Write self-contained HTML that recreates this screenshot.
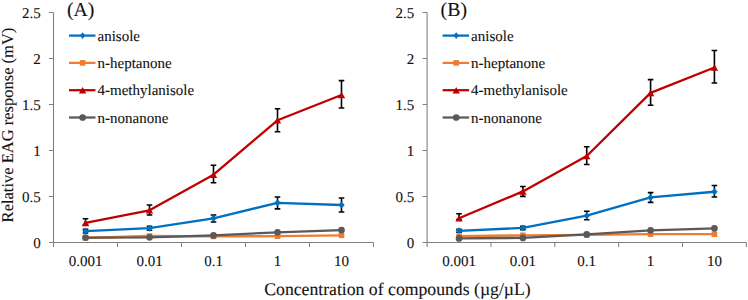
<!DOCTYPE html><html><head><meta charset="utf-8"><style>html,body{margin:0;padding:0;background:#fff;}svg{display:block;}</style></head><body>
<svg width="748" height="300" viewBox="0 0 748 300" font-family='"Liberation Serif", serif'>
<style>text{stroke:#111;stroke-width:0.1px;paint-order:stroke;text-rendering:geometricPrecision;}</style>
<rect width="748" height="300" fill="#fff"/>
<g stroke="#7F7F7F" stroke-width="1.05" fill="none">
<path d="M53.5 12.5 V242.5 H373.5"/>
<path d="M49.0 242.50 H53.5"/>
<path d="M49.0 196.50 H53.5"/>
<path d="M49.0 150.50 H53.5"/>
<path d="M49.0 104.50 H53.5"/>
<path d="M49.0 58.50 H53.5"/>
<path d="M49.0 12.50 H53.5"/>
<path d="M53.50 242.5 V247"/>
<path d="M117.50 242.5 V247"/>
<path d="M181.50 242.5 V247"/>
<path d="M245.50 242.5 V247"/>
<path d="M309.50 242.5 V247"/>
<path d="M373.50 242.5 V247"/>
</g>
<text x="40.70" y="247.70" font-size="15" text-anchor="end" fill="#111">0</text>
<text x="40.70" y="201.70" font-size="15" text-anchor="end" fill="#111">0.5</text>
<text x="40.70" y="155.70" font-size="15" text-anchor="end" fill="#111">1</text>
<text x="40.70" y="109.70" font-size="15" text-anchor="end" fill="#111">1.5</text>
<text x="40.70" y="63.70" font-size="15" text-anchor="end" fill="#111">2</text>
<text x="40.70" y="17.70" font-size="15" text-anchor="end" fill="#111">2.5</text>
<text x="85.50" y="266" font-size="15" text-anchor="middle" fill="#111">0.001</text>
<text x="149.50" y="266" font-size="15" text-anchor="middle" fill="#111">0.01</text>
<text x="213.50" y="266" font-size="15" text-anchor="middle" fill="#111">0.1</text>
<text x="277.50" y="266" font-size="15" text-anchor="middle" fill="#111">1</text>
<text x="341.50" y="266" font-size="15" text-anchor="middle" fill="#111">10</text>
<text x="67.00" y="15.6" font-size="19.8" fill="#111">(A)</text>
<path d="M85.50 229.30 V233.00 M82.70 229.30 H88.30 M82.70 233.00 H88.30" stroke="#000" stroke-width="1.6" fill="none"/><path d="M149.50 226.20 V230.30 M146.70 226.20 H152.30 M146.70 230.30 H152.30" stroke="#000" stroke-width="1.6" fill="none"/><path d="M213.50 215.00 V222.00 M210.70 215.00 H216.30 M210.70 222.00 H216.30" stroke="#000" stroke-width="1.6" fill="none"/><path d="M277.50 197.00 V208.90 M274.70 197.00 H280.30 M274.70 208.90 H280.30" stroke="#000" stroke-width="1.6" fill="none"/><path d="M341.50 198.00 V212.00 M338.70 198.00 H344.30 M338.70 212.00 H344.30" stroke="#000" stroke-width="1.6" fill="none"/>
<polyline points="85.50,231.10 149.50,228.20 213.50,218.30 277.50,202.80 341.50,205.00" fill="none" stroke="#0070C0" stroke-width="2.3" stroke-linejoin="round" stroke-linecap="round"/>
<path d="M85.50 227.60 L88.70 231.10 L85.50 234.60 L82.30 231.10Z" fill="#0070C0"/><path d="M149.50 224.70 L152.70 228.20 L149.50 231.70 L146.30 228.20Z" fill="#0070C0"/><path d="M213.50 214.80 L216.70 218.30 L213.50 221.80 L210.30 218.30Z" fill="#0070C0"/><path d="M277.50 199.30 L280.70 202.80 L277.50 206.30 L274.30 202.80Z" fill="#0070C0"/><path d="M341.50 201.50 L344.70 205.00 L341.50 208.50 L338.30 205.00Z" fill="#0070C0"/>
<polyline points="85.50,238.00 149.50,236.00 213.50,236.40 277.50,236.20 341.50,235.30" fill="none" stroke="#ED7D31" stroke-width="2.3" stroke-linejoin="round" stroke-linecap="round"/>
<rect x="82.70" y="235.20" width="5.6" height="5.6" fill="#ED7D31"/><rect x="146.70" y="233.20" width="5.6" height="5.6" fill="#ED7D31"/><rect x="210.70" y="233.60" width="5.6" height="5.6" fill="#ED7D31"/><rect x="274.70" y="233.40" width="5.6" height="5.6" fill="#ED7D31"/><rect x="338.70" y="232.50" width="5.6" height="5.6" fill="#ED7D31"/>
<path d="M85.50 218.80 V225.00 M82.70 218.80 H88.30 M82.70 225.00 H88.30" stroke="#000" stroke-width="1.6" fill="none"/><path d="M149.50 205.00 V215.00 M146.70 205.00 H152.30 M146.70 215.00 H152.30" stroke="#000" stroke-width="1.6" fill="none"/><path d="M213.50 165.30 V182.70 M210.70 165.30 H216.30 M210.70 182.70 H216.30" stroke="#000" stroke-width="1.6" fill="none"/><path d="M277.50 108.70 V131.70 M274.70 108.70 H280.30 M274.70 131.70 H280.30" stroke="#000" stroke-width="1.6" fill="none"/><path d="M341.50 80.60 V108.00 M338.70 80.60 H344.30 M338.70 108.00 H344.30" stroke="#000" stroke-width="1.6" fill="none"/>
<polyline points="85.50,222.90 149.50,210.30 213.50,174.70 277.50,120.30 341.50,95.00" fill="none" stroke="#C00000" stroke-width="2.3" stroke-linejoin="round" stroke-linecap="round"/>
<path d="M85.50 219.60 L89.20 226.20 L81.80 226.20Z" fill="#C00000"/><path d="M149.50 207.00 L153.20 213.60 L145.80 213.60Z" fill="#C00000"/><path d="M213.50 171.40 L217.20 178.00 L209.80 178.00Z" fill="#C00000"/><path d="M277.50 117.00 L281.20 123.60 L273.80 123.60Z" fill="#C00000"/><path d="M341.50 91.70 L345.20 98.30 L337.80 98.30Z" fill="#C00000"/>
<polyline points="85.50,237.60 149.50,237.30 213.50,235.40 277.50,232.30 341.50,230.10" fill="none" stroke="#595959" stroke-width="2.3" stroke-linejoin="round" stroke-linecap="round"/>
<circle cx="85.50" cy="237.60" r="3.35" fill="#595959"/><circle cx="149.50" cy="237.30" r="3.35" fill="#595959"/><circle cx="213.50" cy="235.40" r="3.35" fill="#595959"/><circle cx="277.50" cy="232.30" r="3.35" fill="#595959"/><circle cx="341.50" cy="230.10" r="3.35" fill="#595959"/>
<path d="M69.00 35.60 H95.50" stroke="#0070C0" stroke-width="2.25" stroke-linecap="butt"/>
<path d="M82.60 32.20 L85.30 35.60 L82.60 39.00 L79.90 35.60Z" fill="#0070C0"/>
<text x="97.50" y="40.60" font-size="15" fill="#111">anisole</text>
<path d="M69.00 62.90 H95.50" stroke="#ED7D31" stroke-width="2.25" stroke-linecap="butt"/>
<rect x="79.80" y="60.10" width="5.6" height="5.6" fill="#ED7D31"/>
<text x="97.50" y="67.90" font-size="15" fill="#111">n-heptanone</text>
<path d="M69.00 90.20 H95.50" stroke="#C00000" stroke-width="2.25" stroke-linecap="butt"/>
<path d="M82.60 86.90 L86.30 93.50 L78.90 93.50Z" fill="#C00000"/>
<text x="97.50" y="95.20" font-size="15" fill="#111">4-methylanisole</text>
<path d="M69.00 117.50 H95.50" stroke="#595959" stroke-width="2.25" stroke-linecap="butt"/>
<circle cx="82.60" cy="117.50" r="3.35" fill="#595959"/>
<text x="97.50" y="122.50" font-size="15" fill="#111">n-nonanone</text>
<g stroke="#7F7F7F" stroke-width="1.05" fill="none">
<path d="M427.1 12.5 V242.5 H746.35"/>
<path d="M422.6 242.50 H427.1"/>
<path d="M422.6 196.50 H427.1"/>
<path d="M422.6 150.50 H427.1"/>
<path d="M422.6 104.50 H427.1"/>
<path d="M422.6 58.50 H427.1"/>
<path d="M422.6 12.50 H427.1"/>
<path d="M427.10 242.5 V247"/>
<path d="M490.95 242.5 V247"/>
<path d="M554.80 242.5 V247"/>
<path d="M618.65 242.5 V247"/>
<path d="M682.50 242.5 V247"/>
<path d="M746.35 242.5 V247"/>
</g>
<text x="414.30" y="247.70" font-size="15" text-anchor="end" fill="#111">0</text>
<text x="414.30" y="201.70" font-size="15" text-anchor="end" fill="#111">0.5</text>
<text x="414.30" y="155.70" font-size="15" text-anchor="end" fill="#111">1</text>
<text x="414.30" y="109.70" font-size="15" text-anchor="end" fill="#111">1.5</text>
<text x="414.30" y="63.70" font-size="15" text-anchor="end" fill="#111">2</text>
<text x="414.30" y="17.70" font-size="15" text-anchor="end" fill="#111">2.5</text>
<text x="459.03" y="266" font-size="15" text-anchor="middle" fill="#111">0.001</text>
<text x="522.88" y="266" font-size="15" text-anchor="middle" fill="#111">0.01</text>
<text x="586.73" y="266" font-size="15" text-anchor="middle" fill="#111">0.1</text>
<text x="650.58" y="266" font-size="15" text-anchor="middle" fill="#111">1</text>
<text x="714.42" y="266" font-size="15" text-anchor="middle" fill="#111">10</text>
<text x="440.60" y="15.6" font-size="19.8" fill="#111">(B)</text>
<path d="M459.03 229.30 V232.30 M456.23 229.30 H461.83 M456.23 232.30 H461.83" stroke="#000" stroke-width="1.6" fill="none"/><path d="M522.88 226.30 V229.60 M520.08 226.30 H525.67 M520.08 229.60 H525.67" stroke="#000" stroke-width="1.6" fill="none"/><path d="M586.73 211.30 V219.70 M583.93 211.30 H589.52 M583.93 219.70 H589.52" stroke="#000" stroke-width="1.6" fill="none"/><path d="M650.58 192.60 V202.40 M647.78 192.60 H653.38 M647.78 202.40 H653.38" stroke="#000" stroke-width="1.6" fill="none"/><path d="M714.42 185.50 V197.00 M711.62 185.50 H717.22 M711.62 197.00 H717.22" stroke="#000" stroke-width="1.6" fill="none"/>
<polyline points="459.03,230.80 522.88,227.90 586.73,215.70 650.58,197.40 714.42,191.75" fill="none" stroke="#0070C0" stroke-width="2.3" stroke-linejoin="round" stroke-linecap="round"/>
<path d="M459.03 227.30 L462.23 230.80 L459.03 234.30 L455.83 230.80Z" fill="#0070C0"/><path d="M522.88 224.40 L526.08 227.90 L522.88 231.40 L519.67 227.90Z" fill="#0070C0"/><path d="M586.73 212.20 L589.93 215.70 L586.73 219.20 L583.52 215.70Z" fill="#0070C0"/><path d="M650.58 193.90 L653.78 197.40 L650.58 200.90 L647.38 197.40Z" fill="#0070C0"/><path d="M714.42 188.25 L717.62 191.75 L714.42 195.25 L711.22 191.75Z" fill="#0070C0"/>
<polyline points="459.03,236.20 522.88,235.30 586.73,234.90 650.58,234.20 714.42,234.20" fill="none" stroke="#ED7D31" stroke-width="2.3" stroke-linejoin="round" stroke-linecap="round"/>
<rect x="456.23" y="233.40" width="5.6" height="5.6" fill="#ED7D31"/><rect x="520.08" y="232.50" width="5.6" height="5.6" fill="#ED7D31"/><rect x="583.93" y="232.10" width="5.6" height="5.6" fill="#ED7D31"/><rect x="647.78" y="231.40" width="5.6" height="5.6" fill="#ED7D31"/><rect x="711.62" y="231.40" width="5.6" height="5.6" fill="#ED7D31"/>
<path d="M459.03 213.70 V219.50 M456.23 213.70 H461.83 M456.23 219.50 H461.83" stroke="#000" stroke-width="1.6" fill="none"/><path d="M522.88 186.50 V196.40 M520.08 186.50 H525.67 M520.08 196.40 H525.67" stroke="#000" stroke-width="1.6" fill="none"/><path d="M586.73 146.80 V164.50 M583.93 146.80 H589.52 M583.93 164.50 H589.52" stroke="#000" stroke-width="1.6" fill="none"/><path d="M650.58 79.60 V105.30 M647.78 79.60 H653.38 M647.78 105.30 H653.38" stroke="#000" stroke-width="1.6" fill="none"/><path d="M714.42 50.50 V83.00 M711.62 50.50 H717.22 M711.62 83.00 H717.22" stroke="#000" stroke-width="1.6" fill="none"/>
<polyline points="459.03,218.20 522.88,191.40 586.73,156.00 650.58,92.90 714.42,67.50" fill="none" stroke="#C00000" stroke-width="2.3" stroke-linejoin="round" stroke-linecap="round"/>
<path d="M459.03 214.90 L462.73 221.50 L455.33 221.50Z" fill="#C00000"/><path d="M522.88 188.10 L526.58 194.70 L519.17 194.70Z" fill="#C00000"/><path d="M586.73 152.70 L590.43 159.30 L583.02 159.30Z" fill="#C00000"/><path d="M650.58 89.60 L654.28 96.20 L646.88 96.20Z" fill="#C00000"/><path d="M714.42 64.20 L718.12 70.80 L710.72 70.80Z" fill="#C00000"/>
<polyline points="459.03,238.40 522.88,237.90 586.73,234.40 650.58,230.30 714.42,228.30" fill="none" stroke="#595959" stroke-width="2.3" stroke-linejoin="round" stroke-linecap="round"/>
<circle cx="459.03" cy="238.40" r="3.35" fill="#595959"/><circle cx="522.88" cy="237.90" r="3.35" fill="#595959"/><circle cx="586.73" cy="234.40" r="3.35" fill="#595959"/><circle cx="650.58" cy="230.30" r="3.35" fill="#595959"/><circle cx="714.42" cy="228.30" r="3.35" fill="#595959"/>
<path d="M442.60 35.60 H469.10" stroke="#0070C0" stroke-width="2.25" stroke-linecap="butt"/>
<path d="M456.20 32.20 L458.90 35.60 L456.20 39.00 L453.50 35.60Z" fill="#0070C0"/>
<text x="471.10" y="40.60" font-size="15" fill="#111">anisole</text>
<path d="M442.60 62.90 H469.10" stroke="#ED7D31" stroke-width="2.25" stroke-linecap="butt"/>
<rect x="453.40" y="60.10" width="5.6" height="5.6" fill="#ED7D31"/>
<text x="471.10" y="67.90" font-size="15" fill="#111">n-heptanone</text>
<path d="M442.60 90.20 H469.10" stroke="#C00000" stroke-width="2.25" stroke-linecap="butt"/>
<path d="M456.20 86.90 L459.90 93.50 L452.50 93.50Z" fill="#C00000"/>
<text x="471.10" y="95.20" font-size="15" fill="#111">4-methylanisole</text>
<path d="M442.60 117.50 H469.10" stroke="#595959" stroke-width="2.25" stroke-linecap="butt"/>
<circle cx="456.20" cy="117.50" r="3.35" fill="#595959"/>
<text x="471.10" y="122.50" font-size="15" fill="#111">n-nonanone</text>
<text transform="translate(13.2 125) rotate(-90)" font-size="16.5" text-anchor="middle" fill="#111">Relative EAG response (mV)</text>
<text x="397.5" y="295" font-size="17.7" text-anchor="middle" fill="#111">Concentration of compounds (µg/µL)</text>
</svg></body></html>
